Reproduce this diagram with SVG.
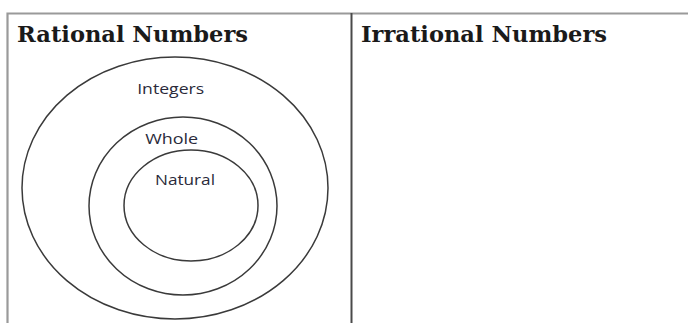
<svg xmlns="http://www.w3.org/2000/svg" width="688" height="323" viewBox="0 0 688 323">
<style>
.frame{stroke:#9a9a9a;stroke-width:2.2;fill:none}
.divider{stroke:#4a4a4a;stroke-width:2;fill:none}
.set{stroke:#3a3a3a;stroke-width:1.5;fill:none}
.head{font-family:"DejaVu Serif","Liberation Serif",serif;font-weight:bold;font-size:22px;fill:#1a1a1a}
.lbl{font-family:"Open Sans","Liberation Sans",sans-serif;font-size:14px;fill:#2a2a3a;text-anchor:middle}
</style>
<rect width="688" height="323" fill="#ffffff"/>
<g id="table">
<path class="frame" d="M7.5 323 V13.5 H688"/>
<path class="divider" d="M351.5 13 V323"/>
</g>
<g id="rational-header"><text class="head" x="17" y="41.5" textLength="231" lengthAdjust="spacingAndGlyphs">Rational Numbers</text></g>
<g id="irrational-header"><text class="head" x="361" y="41.5" textLength="246" lengthAdjust="spacingAndGlyphs">Irrational Numbers</text></g>
<g id="integers">
<ellipse class="set" cx="175" cy="188" rx="153" ry="131"/>
<text class="lbl" x="170.7" y="94.3" textLength="67" lengthAdjust="spacingAndGlyphs">Integers</text>
</g>
<g id="whole">
<ellipse class="set" cx="183" cy="206" rx="94" ry="89"/>
<text class="lbl" x="171.7" y="144" textLength="53" lengthAdjust="spacingAndGlyphs">Whole</text>
</g>
<g id="natural">
<ellipse class="set" cx="191" cy="205.5" rx="67" ry="55.5"/>
<text class="lbl" x="185" y="185" textLength="60" lengthAdjust="spacingAndGlyphs">Natural</text>
</g>
<g id="connectors"></g>
</svg>
